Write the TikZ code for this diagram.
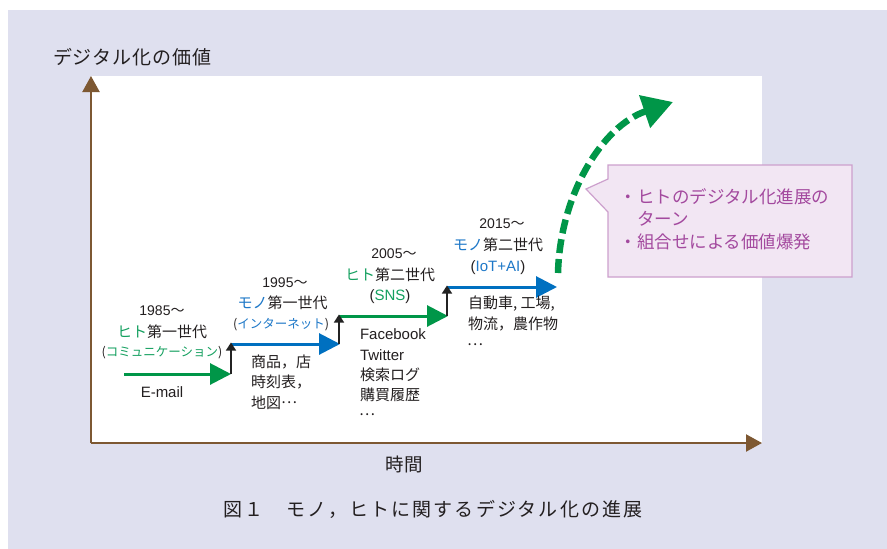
\documentclass[tikz,border=0pt]{standalone}
\usepackage{fontspec}
\setmainfont{Liberation Sans}
\newfontfamily\jp{Noto Sans CJK JP}
\newfontfamily\jpwide[LetterSpace=11]{Noto Sans CJK JP}
\newfontfamily\jpy[LetterSpace=5]{Noto Sans CJK JP}
\usetikzlibrary{arrows.meta}
\newcommand\fsz[1]{\fontsize{#1}{#1}\selectfont}
\newcommand\midell{\raisebox{0.33em}{…}}
\definecolor{bglav}{RGB}{223,224,239}
\definecolor{axbrown}{RGB}{125,88,50}
\definecolor{agreen}{RGB}{0,150,72}
\definecolor{ablue}{RGB}{0,112,192}
\definecolor{tgreen}{RGB}{20,160,95}
\definecolor{tblue}{RGB}{30,120,200}
\definecolor{txt}{RGB}{35,31,32}
\definecolor{ptxt}{RGB}{163,73,158}
\definecolor{cfill}{RGB}{242,230,243}
\definecolor{cdraw}{RGB}{205,160,205}
\definecolor{vblack}{RGB}{35,35,35}
\tikzset{
  lbl/.style={inner sep=0pt, outer sep=0pt, text=txt},
  axisline/.style={draw=axbrown, line width=2.2pt, -{Triangle[length=16pt,width=17pt]}},
  gstep/.style={draw=agreen, line width=3pt, -{Triangle[length=21pt,width=21pt]}},
  bstep/.style={draw=ablue, line width=3pt, -{Triangle[length=21pt,width=21pt]}},
  vstep/.style={draw=vblack, line width=1.5pt, -{Triangle[length=8pt,width=10pt]}},
  dasharrow/.style={draw=agreen, line width=6.5pt, dash pattern=on 14pt off 6pt, -{Triangle[length=30pt,width=33pt]}},
  callout/.style={draw=cdraw, fill=cfill, line width=1.2pt},
}
\begin{document}
\begin{tikzpicture}[x=1pt,y=-1pt]
\useasboundingbox (0,0) rectangle (887,549);
\fill[white] (0,0) rectangle (887,549);
\fill[bglav] (8,10) rectangle (887,549);
\fill[white] (91,76) rectangle (762,443);

% axes
\coordinate (org) at (91,443);
\coordinate (ytop) at (91,76);
\coordinate (xend) at (762,443);
\draw[axisline] (org) -- (ytop);
\draw[axisline] (org) -- (xend);
\node[lbl, anchor=base west] (ylabel) at (53,64.5) {\fsz{19}\jpy デジタル化の価値};
\node[lbl, anchor=base] (xlabel) at (404,471) {\fsz{18.5}\jp 時間};
\node[lbl, anchor=base west] (caption) at (223,516) {\fsz{19}\jpwide 図１　モノ，ヒトに関するデジタル化の進展};

% step arrows
\coordinate (g1s) at (124,374);
\coordinate (g1e) at (231,374);
\coordinate (b1s) at (231,344);
\coordinate (b1e) at (340,344);
\coordinate (g2s) at (339,316);
\coordinate (g2e) at (448,316);
\coordinate (b2s) at (447,287);
\coordinate (b2e) at (557,287);
\coordinate (v1t) at (231,342.5);
\coordinate (v2b) at (339,344);
\coordinate (v2t) at (339,314.5);
\coordinate (v3b) at (447,316);
\coordinate (v3t) at (447,285.5);
\draw[gstep] (g1s) -- (g1e);
\draw[bstep] (b1s) -- (b1e);
\draw[gstep] (g2s) -- (g2e);
\draw[bstep] (b2s) -- (b2e);
\draw[vstep] (g1e) -- (v1t);
\draw[vstep] (v2b) -- (v2t);
\draw[vstep] (v3b) -- (v3t);

% step 1
\node[lbl, anchor=base] (y1) at (162,315) {\fsz{14}1985{\jp 〜}};
\node[lbl, anchor=base] (h1) at (162,337.5) {\fsz{15}\jp\textcolor{tgreen}{ヒト}第一世代};
\node[lbl, anchor=base] (p1) at (162,356) {\fsz{12.5}\jp(\textcolor{tgreen}{コミュニケーション})};
\node[lbl, anchor=base] (e1) at (162,397) {\fsz{15}E-mail};

% step 2
\node[lbl, anchor=base] (y2) at (285,287) {\fsz{14}1995{\jp 〜}};
\node[lbl, anchor=base] (h2) at (282.5,308.5) {\fsz{15}\jp\textcolor{tblue}{モノ}第一世代};
\node[lbl, anchor=base] (p2) at (281,328) {\fsz{12.5}\jp(\textcolor{tblue}{インターネット})};
\node[lbl, anchor=base west] (l2a) at (251,367) {\fsz{15}\jp 商品，店};
\node[lbl, anchor=base west] (l2b) at (251,387) {\fsz{15}\jp 時刻表，};
\node[lbl, anchor=base west] (l2c) at (251,408) {\fsz{15}\jp 地図\midell};

% step 3
\node[lbl, anchor=base] (y3) at (394,258) {\fsz{14}2005{\jp 〜}};
\node[lbl, anchor=base] (h3) at (390,280) {\fsz{15}\jp\textcolor{tgreen}{ヒト}第二世代};
\node[lbl, anchor=base] (p3) at (390,300) {\fsz{15}(\textcolor{tgreen}{SNS})};
\node[lbl, anchor=base west] (l3a) at (360,339) {\fsz{15}Facebook};
\node[lbl, anchor=base west] (l3b) at (360,360) {\fsz{15}Twitter};
\node[lbl, anchor=base west] (l3c) at (360,380) {\fsz{15}\jp 検索ログ};
\node[lbl, anchor=base west] (l3d) at (360,400) {\fsz{15}\jp 購買履歴};
\node[lbl, anchor=base west] (l3e) at (359,420) {\fsz{15}\jp \midell};

% step 4
\node[lbl, anchor=base] (y4) at (502,228) {\fsz{14}2015{\jp 〜}};
\node[lbl, anchor=base] (h4) at (498,250) {\fsz{15}\jp\textcolor{tblue}{モノ}第二世代};
\node[lbl, anchor=base] (p4) at (498,271) {\fsz{15}(\textcolor{tblue}{IoT+AI})};
\node[lbl, anchor=base west] (l4a) at (468,308) {\fsz{15}\jp 自動車, 工場,};
\node[lbl, anchor=base west] (l4b) at (468,329) {\fsz{15}\jp 物流，農作物};
\node[lbl, anchor=base west] (l4c) at (467,350) {\fsz{15}\jp \midell};

% dashed growth arrow
\coordinate (c0) at (558,273);
\coordinate (c1) at (673,102);
\draw[dasharrow] (c0) .. controls (560,195) and (602,126) .. (c1);

% callout
\draw[callout] (608,165) -- (852,165) -- (852,277) -- (608,277) -- (608,212) -- (586,189) -- (608,179) -- cycle;
\node[lbl, text=ptxt, anchor=base west] (t1) at (619.5,203) {\fsz{17.5}\jp ・ヒトのデジタル化進展の};
\node[lbl, text=ptxt, anchor=base west] (t2) at (619.5,225) {\fsz{17.5}\jp \phantom{・}ターン};
\node[lbl, text=ptxt, anchor=base west] (t3) at (619.5,248) {\fsz{17.5}\jp ・組合せによる価値爆発};
\end{tikzpicture}
\end{document}
